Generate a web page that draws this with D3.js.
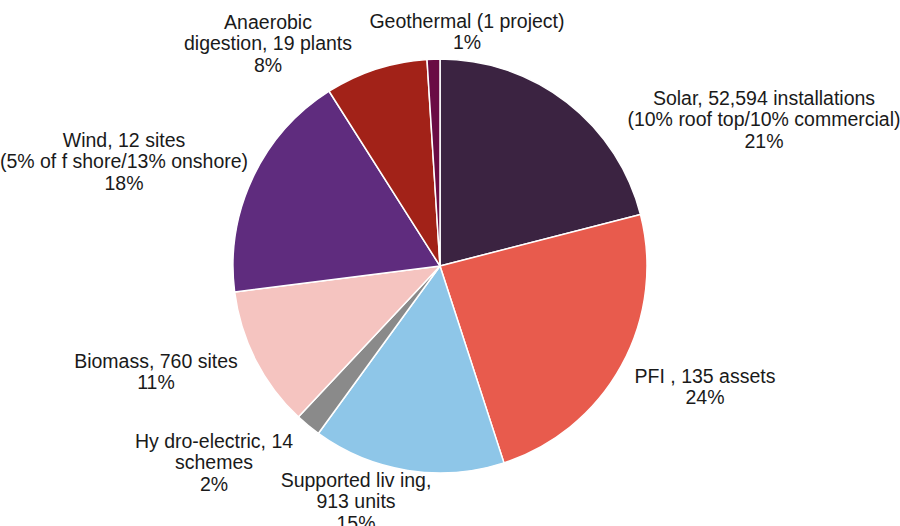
<!DOCTYPE html>
<html>
<head>
<meta charset="utf-8">
<script src="https://cdn.jsdelivr.net/npm/d3@7"></script>
<style>
  html, body { margin: 0; padding: 0; background: #fff; }
  svg text { font-family: "Liberation Sans", Arial, sans-serif; font-size: 19.5px; fill: #1a1a1a; }
</style>
</head>
<body>
<svg id="chart" width="900" height="526"></svg>
<script>
// Portfolio share by asset type (percent), clockwise from 12 o'clock
const categories = ["Solar", "PFI", "Supported living", "Hydro-electric", "Biomass", "Wind", "Anaerobic digestion", "Geothermal"];
const shares = [21, 24, 15, 2, 11, 18, 8, 1];
const labelLines = [
  ["Solar, 52,594 installations", "(10% roof top/10% commercial)", "21%"],
  ["PFI , 135 assets", "24%"],
  ["Supported liv ing,", "913 units", "15%"],
  ["Hy dro-electric, 14", "schemes", "2%"],
  ["Biomass, 760 sites", "11%"],
  ["Wind, 12 sites", "(5% of f shore/13% onshore)", "18%"],
  ["Anaerobic", "digestion, 19 plants", "8%"],
  ["Geothermal (1 project)", "1%"]
];
const colors = ["#3b2341", "#e85b4d", "#8ec6e8", "#8a8a8a", "#f5c4c0", "#5f2c7e", "#a22218", "#6a0c44"];

// Label placement (centre of the first line) for each slice
const labelAnchor = [
  [764, 98], [705, 376], [356, 480], [214, 441],
  [156, 361], [124, 140], [268, 22], [467, 21]
];

const svg = d3.select("#chart");
const cx = 440, cy = 266, radius = 207, lineH = 21.5;

const color = d3.scaleOrdinal().domain(categories).range(colors);
const pie = d3.pie().sort(null).value(d => d.value);
const arc = d3.arc().innerRadius(0).outerRadius(radius);

const data = categories.map((c, i) => ({ name: c, value: shares[i] }));

const g = svg.append("g").attr("transform", `translate(${cx},${cy})`);
g.selectAll("path")
  .data(pie(data))
  .join("path")
  .attr("d", arc)
  .attr("fill", d => color(d.data.name))
  .attr("stroke", "#fff")
  .attr("stroke-width", 1.5)
  .attr("stroke-linejoin", "round");

const labels = svg.append("g");
labelLines.forEach((lines, i) => {
  const t = labels.append("text")
    .attr("text-anchor", "middle")
    .attr("x", labelAnchor[i][0])
    .attr("y", labelAnchor[i][1]);
  lines.forEach((ln, j) => {
    t.append("tspan")
      .attr("x", labelAnchor[i][0])
      .attr("y", labelAnchor[i][1] + j * lineH)
      .attr("dy", "0.35em")
      .text(ln);
  });
});
</script>
</body>
</html>
